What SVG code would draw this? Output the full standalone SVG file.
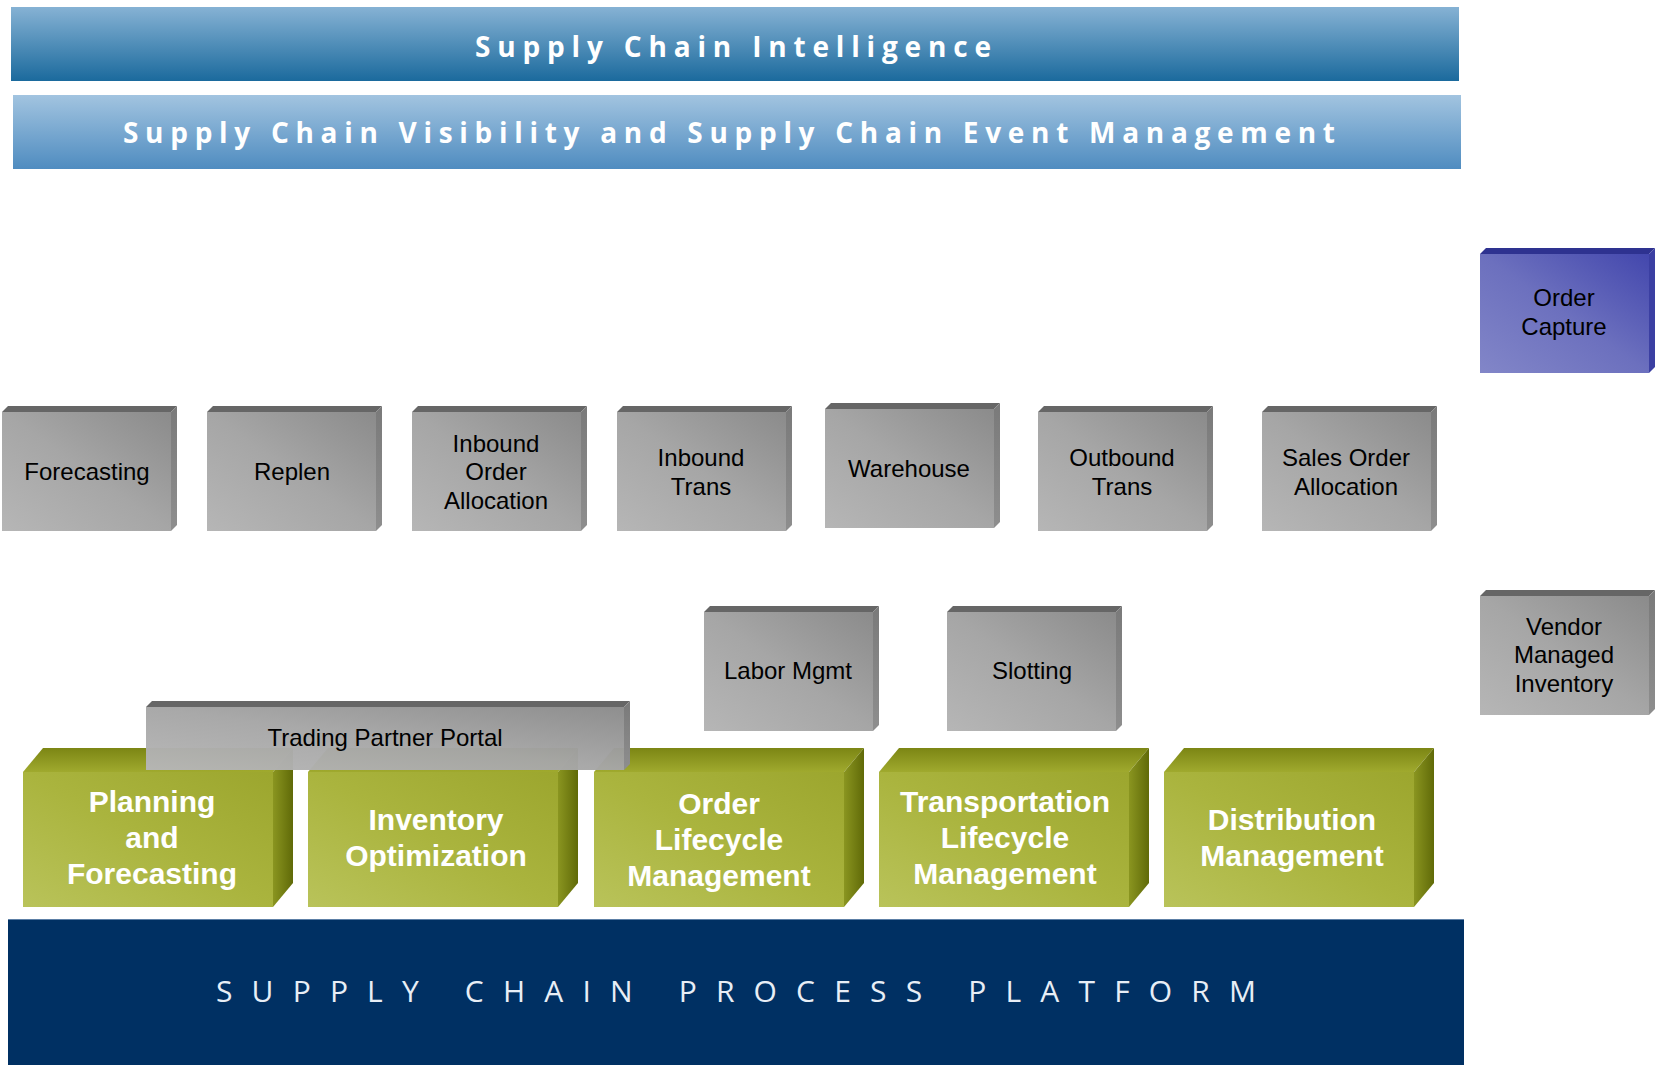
<svg xmlns="http://www.w3.org/2000/svg" xmlns:xlink="http://www.w3.org/1999/xlink" width="1659" height="1065" viewBox="0 0 1659 1065">
<defs>
<linearGradient id="bar1" x1="0" y1="0" x2="0" y2="1"><stop offset="0" stop-color="#86b2d4"/><stop offset="1" stop-color="#1b6a9d"/></linearGradient>
<linearGradient id="bar2" x1="0" y1="0" x2="0" y2="1"><stop offset="0" stop-color="#a2c4e0"/><stop offset="1" stop-color="#4f8cc0"/></linearGradient>
<linearGradient id="gFront" x1="0" y1="1" x2="1" y2="0"><stop offset="0" stop-color="#b6b6b6"/><stop offset="0.5" stop-color="#a6a6a6"/><stop offset="1" stop-color="#8b8b8b"/></linearGradient>
<linearGradient id="gRight" x1="0" y1="0" x2="0" y2="1"><stop offset="0" stop-color="#7a7a7a"/><stop offset="1" stop-color="#8e8e8e"/></linearGradient>
<linearGradient id="pFront" x1="0" y1="1" x2="1" y2="0"><stop offset="0" stop-color="#8286c8"/><stop offset="0.5" stop-color="#6c70be"/><stop offset="1" stop-color="#4347ad"/></linearGradient>
<linearGradient id="grFront" x1="0" y1="1" x2="1" y2="0"><stop offset="0" stop-color="#b9c35a"/><stop offset="0.5" stop-color="#aab43e"/><stop offset="1" stop-color="#9ca62e"/></linearGradient>
<linearGradient id="grTop" x1="0" y1="1" x2="0" y2="0"><stop offset="0" stop-color="#a0aa2e"/><stop offset="1" stop-color="#7c8614"/></linearGradient>
<linearGradient id="grRight" x1="0" y1="0" x2="1" y2="0"><stop offset="0" stop-color="#8a9520"/><stop offset="1" stop-color="#606a08"/></linearGradient>
<g id="grayBox">
<rect x="0" y="6" width="169" height="119" fill="url(#gFront)"/>
<polygon points="0,6 6,0 175,0 169,6" fill="#666666"/>
<polygon points="169,6 175,0 175,119 169,125" fill="url(#gRight)"/>
</g>
<g id="purpleBox">
<rect x="0" y="6" width="169" height="119" fill="url(#pFront)"/>
<polygon points="0,6 6,0 175,0 169,6" fill="#2e3290"/>
<polygon points="169,6 175,0 175,119 169,125" fill="#3b3fa2"/>
</g>
<g id="greenBox">
<rect x="0" y="24" width="250" height="135" fill="url(#grFront)"/>
<polygon points="0,24 20,0 270,0 250,24" fill="url(#grTop)"/>
<polygon points="250,24 270,0 270,135 250,159" fill="url(#grRight)"/>
</g>
</defs>
<style>
.band{font-family:"Open Sans","DejaVu Sans",sans-serif;font-weight:700;font-size:28px;fill:#ffffff}
.plat{font-family:"Open Sans","DejaVu Sans",sans-serif;font-weight:400;font-size:30px;fill:#e8eef6}
.gl{font-family:"Liberation Sans",Arial,sans-serif;font-size:24px;fill:#000000;text-anchor:middle}
.wl{font-family:"Liberation Sans",Arial,sans-serif;font-weight:700;font-size:30px;fill:#ffffff;text-anchor:middle}
</style>
<rect width="1659" height="1065" fill="#ffffff"/>

<g id="intelligence">
<rect x="11" y="7" width="1448" height="74" fill="url(#bar1)"/>
<text class="band" x="475" y="57" textLength="516" lengthAdjust="spacing">Supply Chain Intelligence</text>
</g>
<g id="visibility">
<rect x="13" y="95" width="1448" height="74" fill="url(#bar2)"/>
<text class="band" x="123" y="143" textLength="1212" lengthAdjust="spacing">Supply Chain Visibility and Supply Chain Event Management</text>
</g>

<g id="order-capture">
<use xlink:href="#purpleBox" x="1480" y="248"/>
<text class="gl" x="1564" y="306">Order</text>
<text class="gl" x="1564" y="335">Capture</text>
</g>

<g id="forecasting">
<use xlink:href="#grayBox" x="2" y="406"/>
<text class="gl" x="87" y="480">Forecasting</text>
</g>
<g id="replen">
<use xlink:href="#grayBox" x="207" y="406"/>
<text class="gl" x="292" y="480">Replen</text>
</g>
<g id="inbound-order-allocation">
<use xlink:href="#grayBox" x="412" y="406"/>
<text class="gl" x="496" y="452">Inbound</text>
<text class="gl" x="496" y="480">Order</text>
<text class="gl" x="496" y="509">Allocation</text>
</g>
<g id="inbound-trans">
<use xlink:href="#grayBox" x="617" y="406"/>
<text class="gl" x="701" y="466">Inbound</text>
<text class="gl" x="701" y="495">Trans</text>
</g>
<g id="warehouse">
<use xlink:href="#grayBox" x="825" y="403"/>
<text class="gl" x="909" y="477">Warehouse</text>
</g>
<g id="outbound-trans">
<use xlink:href="#grayBox" x="1038" y="406"/>
<text class="gl" x="1122" y="466">Outbound</text>
<text class="gl" x="1122" y="495">Trans</text>
</g>
<g id="sales-order-allocation">
<use xlink:href="#grayBox" x="1262" y="406"/>
<text class="gl" x="1346" y="466">Sales Order</text>
<text class="gl" x="1346" y="495">Allocation</text>
</g>

<g id="labor-mgmt">
<use xlink:href="#grayBox" x="704" y="606"/>
<text class="gl" x="788" y="679">Labor Mgmt</text>
</g>
<g id="slotting">
<use xlink:href="#grayBox" x="947" y="606"/>
<text class="gl" x="1032" y="679">Slotting</text>
</g>
<g id="vendor-managed-inventory">
<use xlink:href="#grayBox" x="1480" y="590"/>
<text class="gl" x="1564" y="635">Vendor</text>
<text class="gl" x="1564" y="663">Managed</text>
<text class="gl" x="1564" y="692">Inventory</text>
</g>

<g id="planning-forecasting">
<use xlink:href="#greenBox" x="23" y="748"/>
<text class="wl" x="152" y="812">Planning</text>
<text class="wl" x="152" y="848">and</text>
<text class="wl" x="152" y="884">Forecasting</text>
</g>
<g id="inventory-optimization">
<use xlink:href="#greenBox" x="308" y="748"/>
<text class="wl" x="436" y="830">Inventory</text>
<text class="wl" x="436" y="866">Optimization</text>
</g>
<g id="order-lifecycle">
<use xlink:href="#greenBox" x="594" y="748"/>
<text class="wl" x="719" y="814">Order</text>
<text class="wl" x="719" y="850">Lifecycle</text>
<text class="wl" x="719" y="886">Management</text>
</g>
<g id="transportation-lifecycle">
<use xlink:href="#greenBox" x="879" y="748"/>
<text class="wl" x="1005" y="812">Transportation</text>
<text class="wl" x="1005" y="848">Lifecycle</text>
<text class="wl" x="1005" y="884">Management</text>
</g>
<g id="distribution-management">
<use xlink:href="#greenBox" x="1164" y="748"/>
<text class="wl" x="1292" y="830">Distribution</text>
<text class="wl" x="1292" y="866">Management</text>
</g>

<g id="trading-partner-portal">
<rect x="146" y="707" width="478" height="63" fill="url(#gFront)" opacity="0.97"/>
<polygon points="146,707 152,701 630,701 624,707" fill="#666666"/>
<polygon points="624,707 630,701 630,764 624,770" fill="url(#gRight)"/>
<text class="gl" x="385" y="746">Trading Partner Portal</text>
</g>

<g id="platform">
<rect x="8" y="919" width="1456" height="146" fill="#003063"/>
<line x1="8" y1="919.5" x2="1464" y2="919.5" stroke="#5c7fa6" stroke-width="1"/>
<text class="plat" x="216" y="1002" textLength="1040" lengthAdjust="spacing">SUPPLY CHAIN PROCESS PLATFORM</text>
</g>

<g id="connectors"></g>
</svg>
